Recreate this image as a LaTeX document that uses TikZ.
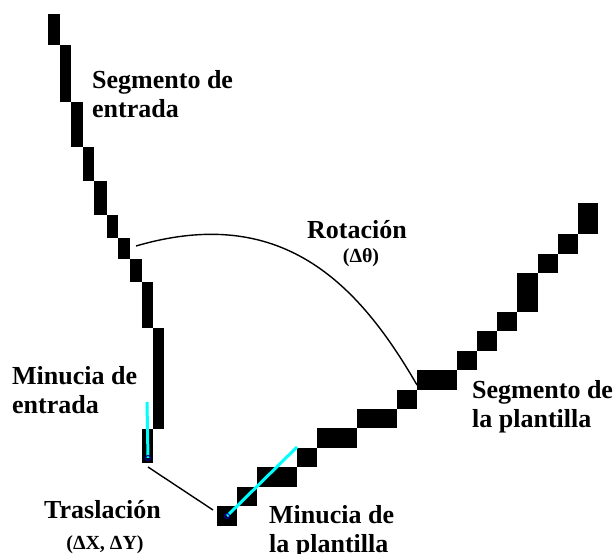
\documentclass[tikz,border=0pt]{standalone}
\usepackage{fontspec}
\setmainfont{Liberation Serif}
\definecolor{aqua}{RGB}{0,255,255}
\definecolor{navydot}{RGB}{0,0,170}
\begin{document}
\begin{tikzpicture}[x=1pt,y=-1pt,
  blk/.style={fill=black},
  lbl/.style={font=\fontsize{26}{29}\selectfont\bfseries, inner sep=0pt, align=left, anchor=base west},
  sublbl/.style={font=\fontsize{20}{24}\selectfont\bfseries, inner sep=0pt, anchor=base},
  minu/.style={aqua, line width=3pt},
  dot/.style={circle, inner sep=0pt, minimum size=5pt},
  conn/.style={black, line width=1.4pt}]
\useasboundingbox (0,0) rectangle (614,554);
% entry segment
\foreach \a/\b/\c/\d in {48/14/60/45, 60/45/71/102, 71/102/83/147, 83/147/94/181,
  94/181/107/215, 107/215/118/238, 118/238/130/259, 130/259/142/282,
  142/282/153/328, 153/328/164/429, 142/429/153/463}
  \fill[blk] (\a,\b) rectangle (\c,\d);
% template segment
\foreach \a/\b/\c/\d in {217/506/237/526, 237/487/257/506, 257/467/297/487,
  297/448/317/467, 317/428/357/448, 357/409/397/428, 397/390/417/409,
  417/370/457/390, 457/351/477/370, 477/331/497/351, 497/312/517/331,
  517/273/538/312, 538/254/558/273, 558/234/578/254, 578/203/598/234}
  \fill[blk] (\a,\b) rectangle (\c,\d);
% minutiae
\coordinate (e0) at (147,402);
\node[dot] (ed) at (148,458) {};
\draw[minu] (e0) -- (ed.center);
\draw[navydot, line width=1pt] (ed) circle (2.5pt);
\coordinate (t0) at (297,447);
\node[dot] (td) at (227,516) {};
\draw[minu] (t0) -- (td.center);
\draw[navydot, line width=1pt] (td) circle (2.5pt);
% connectors
\coordinate (c1) at (148,467);
\coordinate (c2) at (213,510);
\draw[conn] (c1) -- (c2);
\coordinate (r1) at (136,246);
\coordinate (r2) at (417,385);
\draw[conn] (r1) .. controls (280,204) and (357,281) .. (r2);
% labels (base anchor = baseline of the last line)
\node[lbl] (segent) at (92,117) {Segmento de\\entrada};
\node[lbl] (rot) at (307,238) {Rotación};
\node[sublbl] (rotd) at (361,262) {(Δθ)};
\node[lbl] (segpla) at (472,427) {Segmento de\\la plantilla};
\node[lbl] (minent) at (12,413) {Minucia de\\entrada};
\node[lbl] (tras) at (44,518) {Traslación};
\node[sublbl] (trasd) at (105,549) {(ΔX, ΔY)};
\node[lbl] (minpla) at (269,552) {Minucia de\\la plantilla};
\end{tikzpicture}
\end{document}
